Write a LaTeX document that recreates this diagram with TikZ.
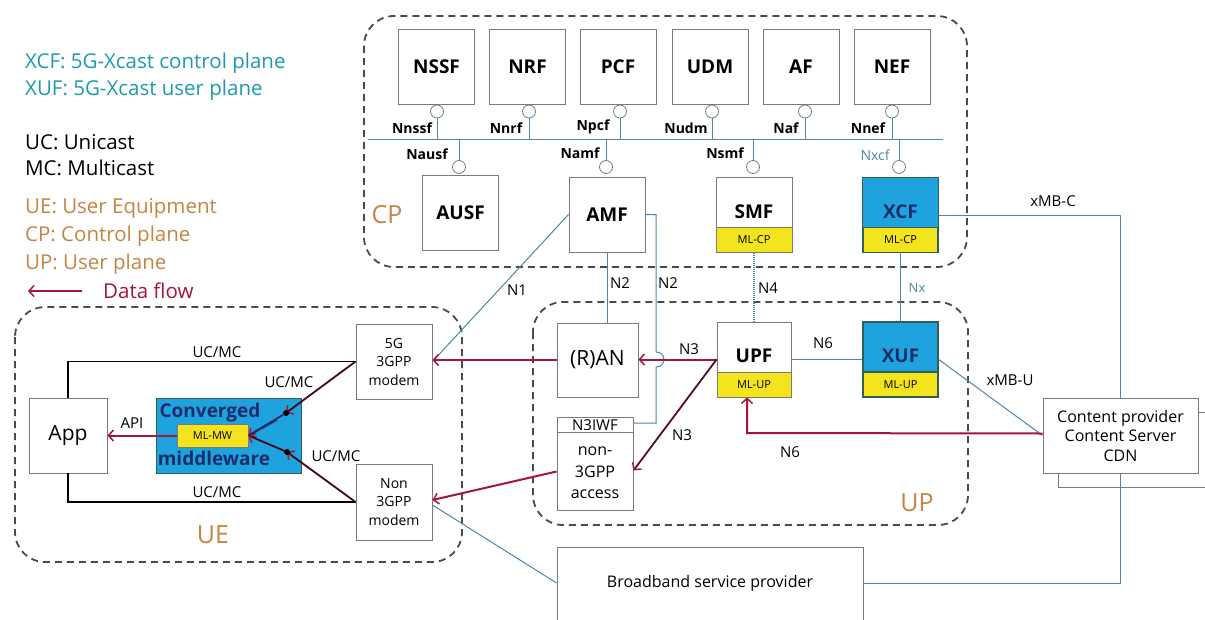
\documentclass[tikz,border=0pt]{standalone}
\usepackage{fontspec}
\setmainfont{Open Sans}
\usetikzlibrary{arrows.meta,calc}
\definecolor{boxgray}{HTML}{7A7A7A}
\definecolor{lineblue}{HTML}{4F86A6}
\definecolor{legteal}{HTML}{1E9AB0}
\definecolor{orangeT}{HTML}{C48642}
\definecolor{flowred}{HTML}{A3173A}
\definecolor{xblue}{HTML}{1FA3DF}
\definecolor{xborder}{HTML}{2F5F55}
\definecolor{mlyellow}{HTML}{F3E41E}
\definecolor{navyT}{HTML}{1B2D6B}
\definecolor{regiongray}{HTML}{4A4A4A}
\begin{document}
\begin{tikzpicture}[x=1pt,y=-1pt,
  nf/.style={draw=boxgray,line width=0.9pt,minimum width=76pt,minimum height=75pt,inner sep=0pt,fill=white,font=\fontsize{19}{22}\selectfont\bfseries},
  nftext/.style={inner sep=0pt,font=\fontsize{19}{22}\selectfont\bfseries},
  band/.style={draw=boxgray,fill=mlyellow,line width=0.9pt,minimum height=25pt,inner sep=0pt,font=\fontsize{11}{13}\selectfont},
  ifl/.style={inner sep=0pt,font=\fontsize{14}{16}\selectfont\bfseries},
  lbl/.style={inner sep=0pt,font=\fontsize{15}{17}\selectfont},
  legend/.style={anchor=west,inner sep=0pt,font=\fontsize{20.5}{24}\selectfont},
  region/.style={draw=regiongray,line width=1.8pt,dash pattern=on 7pt off 5pt,rounded corners=30pt},
  regionlbl/.style={inner sep=0pt,text=orangeT,font=\fontsize{25}{28}\selectfont},
  cline/.style={draw=lineblue,line width=1pt},
  ball/.style={draw=boxgray,line width=0.8pt,circle,minimum size=13pt,inner sep=0pt,fill=white},
  flow/.style={draw=flowred,line width=2pt,-{Straight Barb[length=5pt,width=11pt,line width=1.5pt]}},
  darkflow/.style={draw=black,line width=1.8pt,-{Straight Barb[length=5pt,width=11pt,line width=1.5pt,color=flowred]}},
  blk/.style={draw=black,line width=1.6pt},
  dot/.style={circle,fill=black,minimum size=6pt,inner sep=0pt}
]
\useasboundingbox (0,0) rectangle (1205,619);
\clip (0,0) rectangle (1205,619);
\fill[white] (0,0) rectangle (1205,619);

% ---------------- legend
\node[legend,text=legteal] (lg1) at (25,63) {XCF: 5G-Xcast control plane};
\node[legend,text=legteal] (lg2) at (25,90) {XUF: 5G-Xcast user plane};
\node[legend] (lg3) at (25,142) {UC: Unicast};
\node[legend] (lg4) at (25,168) {MC: Multicast};
\node[legend,text=orangeT] (lg5) at (25,208) {UE: User Equipment};
\node[legend,text=orangeT] (lg6) at (25,236) {CP: Control plane};
\node[legend,text=orangeT] (lg7) at (25,264) {UP: User plane};
\node[legend,text=flowred] (lg8) at (103,291) {Data flow};
\coordinate (lgA) at (82,291);
\coordinate (lgB) at (28,291);
\draw[flow] (lgA) -- (lgB);

% ---------------- regions
\draw[region] (364,16) rectangle (967,267);
\draw[region] (533,302) rectangle (968,525);
\draw[region] (15,307) rectangle (462,562);
\node[regionlbl] (cplbl) at (387,215) {CP};
\node[regionlbl] (uplbl) at (917,503) {UP};
\node[regionlbl] (uelbl) at (213,535) {UE};

% ---------------- service bus
\coordinate (busL) at (368,139);
\coordinate (busR) at (943,139);
\draw[cline] (busL) -- (busR);

% top NFs
\node[nf] (nssf) at (436.5,66.5) {NSSF};
\node[nf] (nrf) at (527.5,66.5) {NRF};
\node[nf] (pcf) at (618,66.5) {PCF};
\node[nf] (udm) at (710,66.5) {UDM};
\node[nf] (af) at (801,66.5) {AF};
\node[nf] (nef) at (892,66.5) {NEF};

\foreach \n/\x in {nssf/437,nrf/529,pcf/620,udm/712,af/805,nef/892}{
  \node[ball] (b\n) at (\x,111.5) {};
  \draw[cline] (b\n.south) -- (b\n.south |- busL);
}
\node[ifl] (lnssf) at (412,128) {Nnssf};
\node[ifl] (lnrf) at (506,128) {Nnrf};
\node[ifl] (lpcf) at (593,127) {Npcf};
\node[ifl] (ludm) at (686,128) {Nudm};
\node[ifl] (laf) at (786,128) {Naf};
\node[ifl] (lnef) at (868,128) {Nnef};

% bottom CP NFs
\node[nf] (ausf) at (460.5,212.5) {AUSF};
\node[nf] (amf) at (607,214.5) {AMF};
\node[nf] (smf) at (754,215) {};
\node[band,minimum width=76pt,anchor=south] (smfb) at (smf.south) {ML-CP};
\node[nftext] (smft) at (754,212) {SMF};
\node[nf,fill=xblue,draw=xborder,line width=1.4pt] (xcf) at (900.5,215) {};
\node[band,draw=xborder,line width=1.4pt,minimum width=75pt,anchor=south] (xcfb) at (xcf.south) {ML-CP};
\node[nftext,text=navyT] (xcft) at (900.5,212) {XCF};

\foreach \n/\x in {ausf/459,amf/606,smf/753,xcf/899}{
  \node[ball] (b\n) at (\x,167) {};
  \draw[cline] (b\n.north) -- (b\n.north |- busL);
}
\node[ifl] (lausf) at (427,154) {Nausf};
\node[ifl] (lamf) at (580,153) {Namf};
\node[ifl] (lsmf) at (725,153) {Nsmf};
\node[ifl,text=lineblue,font=\fontsize{14}{16}\selectfont] (lxcf) at (875,155) {Nxcf};

% ---------------- UP nodes
\node[nf,minimum width=81pt,minimum height=74pt,font=\fontsize{21}{24}\selectfont] (ran) at (597.5,360) {(R)AN};
\node[draw=boxgray,line width=0.9pt,fill=white,minimum width=76pt,minimum height=93pt,inner sep=0pt] (n3iwf) at (595,463.5) {};
\draw[draw=boxgray,line width=0.9pt] ([yshift=-16pt]n3iwf.north west) -- ([yshift=-16pt]n3iwf.north east);
\node[inner sep=0pt,font=\fontsize{15}{17}\selectfont] (n3h) at (595,425.5) {N3IWF};
\node[inner sep=0pt,align=center,font=\fontsize{16}{21.5}\selectfont] (n3b) at (595,473) {non-\\3GPP\\access};
\node[nf,minimum width=74pt] (upf) at (754,359.5) {};
\node[band,minimum width=74pt,anchor=south] (upfb) at (upf.south) {ML-UP};
\node[nftext] (upft) at (754,356) {UPF};
\node[nf,fill=xblue,draw=xborder,line width=1.4pt,minimum width=75pt] (xuf) at (900.5,359.5) {};
\node[band,draw=xborder,line width=1.4pt,minimum width=75pt,anchor=south] (xufb) at (xuf.south) {ML-UP};
\node[nftext,text=navyT] (xuft) at (900.5,356) {XUF};

% ---------------- external boxes
\draw[draw=boxgray,line width=0.9pt] (1058,412) rectangle (1215,487);
\node[draw=boxgray,line width=0.9pt,minimum width=306pt,minimum height=80pt,inner sep=0pt] (bsp) at (710,587) {};
\node[inner sep=0pt,font=\fontsize{16}{18}\selectfont] (bspt) at (710,583) {Broadband service provider};

% xMB-C
\coordinate (xmbA) at (1120,215);
\coordinate (xmbB) at (1120,583);
\draw[cline] (xcf.east) -- (xmbA) -- (xmbB) -- ([yshift=4pt]bsp.east);
\node[lbl] (lxmbc) at (1053,201) {xMB-C};
\node[draw=boxgray,line width=0.9pt,fill=white,minimum width=155pt,minimum height=75pt,inner sep=0pt,align=center,font=\fontsize{16}{19.5}\selectfont] (cps) at (1120.5,435.5) {Content provider\\Content Server\\CDN};

% ---------------- UE nodes
\node[nf,minimum width=78pt,font=\fontsize{21}{24}\selectfont] (app) at (68,435.5) {App};
\node[draw=xborder,line width=0.6pt,fill=xblue,minimum width=145pt,minimum height=75pt,inner sep=0pt] (mw) at (228.5,435.5) {};
\node[inner sep=0pt,text=navyT,font=\fontsize{19}{22}\selectfont\bfseries] (mwt1) at (210,413) {Converged};
\node[inner sep=0pt,text=navyT,font=\fontsize{19}{22}\selectfont\bfseries] (mwt2) at (214,458) {middleware};
\node[band,minimum width=71pt,minimum height=23pt] (mlmw) at (212.5,435.5) {ML-MW};
\node[nf,font=\fontsize{14}{18.5}\selectfont,align=center] (m5g) at (394,361.5) {5G\\3GPP\\modem};
\node[nf,minimum height=76pt,font=\fontsize{14}{18.5}\selectfont,align=center] (mnon) at (394,502) {Non\\3GPP\\modem};

% ---------------- connectors CP/UP
\draw[cline] (amf.west) -- (m5g.east);
\node[lbl] (ln1) at (517,290) {N1};
\draw[cline] (amf.south) -- (amf.south |- ran.north);
\node[lbl] (ln2a) at (620,283) {N2};
\coordinate (n2a) at (656,214.5);
\coordinate (n2b) at (656,352);
\coordinate (n2c) at (656,367);
\coordinate (n2d) at (656,423);
\draw[cline] (amf.east) -- (n2a) -- (n2b) to[out=0,in=0,looseness=1.8] (n2c) -- (n2d) -- (n2d -| n3iwf.east);
\node[lbl] (ln2b) at (668,283) {N2};
\draw[cline,densely dotted,line width=1.2pt] (smfb.south) -- (upf.north);
\node[lbl] (ln4) at (768,288) {N4};
\draw[cline] (xcfb.south) -- (xuf.north);
\node[lbl,text=lineblue,font=\fontsize{13}{15}\selectfont] (lnx) at (917,288) {Nx};
\draw[cline] (upf.east) -- (xuf.west);
\node[lbl] (ln6a) at (823,343) {N6};
\draw[cline] (xuf.east) -- (cps.west);
\node[lbl] (lxmbu) at (1010,380) {xMB-U};
\coordinate (n6turn) at (747,433);
\draw[flow] ([yshift=2pt]cps.west) -- (n6turn) -- (n6turn |- upfb.south);
\node[lbl] (ln6b) at (790,452) {N6};
\draw[flow] (upf.west) -- (upf.west -| ran.east);
\node[lbl] (ln3a) at (689,349) {N3};
\draw[darkflow,draw=flowred!55!black] (upf.west) -- ([yshift=-7pt]n3iwf.east);
\node[lbl] (ln3b) at (682,435) {N3};
\draw[cline] ([yshift=-3pt]mnon.east) -- ([yshift=4pt]bsp.west);

% ---------------- data flow into UE
\draw[flow] (ran.west) -- (ran.west -| m5g.east);
\draw[flow] ([yshift=-8pt]n3iwf.west) -- ([yshift=2pt]mnon.east);

% ---------------- UE internal
\draw[blk] (m5g.west) -| (app.north);
\node[lbl] (luc1) at (217,352) {UC/MC};
\draw[blk] (app.south) |- (mnon.west);
\node[lbl] (luc2) at (217,492) {UC/MC};
\draw[flow] (mlmw.west) -- (app.east);
\node[lbl] (lapi) at (132,423) {API};
\coordinate (d1) at (286,413);
\coordinate (d2) at (287,452);
\coordinate (d3) at (277,420);
\draw[darkflow,draw=flowred!40!black] (m5g.west) -- (d1);
\draw[darkflow,draw=flowred!40!black] (mnon.west) -- (d2);
\node[dot] (dd1) at (d1) {};
\node[dot] (dd2) at (d2) {};
\draw[darkflow,draw=navyT] (dd1) -- (mlmw.east);
\draw[darkflow,draw=flowred!40!black] (dd2) -- (mlmw.east);
\draw[draw=navyT,line width=1.6pt] (d3) -- (mlmw.east);
\node[lbl] (luc3) at (289,382) {UC/MC};
\node[lbl] (luc4) at (336,456) {UC/MC};
\end{tikzpicture}
\end{document}
